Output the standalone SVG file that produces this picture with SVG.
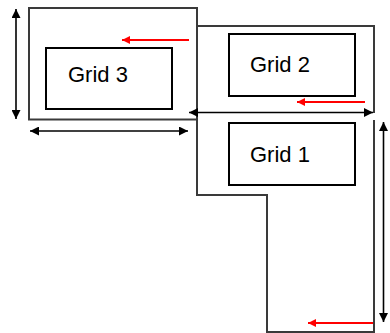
<svg xmlns="http://www.w3.org/2000/svg" width="390" height="333" viewBox="0 0 390 333">
<style>
.outer{fill:none;stroke:#3a3a3a;stroke-width:2;stroke-linejoin:miter}
.inner{fill:#fff;stroke:#000;stroke-width:2}
.lbl{font-family:"Liberation Sans",Arial,sans-serif;font-size:22px;fill:#000}
.dim{stroke:#000;stroke-width:1.6;fill:none;marker-start:url(#bk);marker-end:url(#bk)}
.red{stroke:#ff0000;stroke-width:2;fill:none;marker-end:url(#rd)}
</style>
<defs>
<marker id="bk" markerUnits="userSpaceOnUse" viewBox="0 0 10 10" refX="10" refY="5" markerWidth="10" markerHeight="9" orient="auto-start-reverse">
<path d="M0,0 L10,5 L0,10 Z" fill="#000"/>
</marker>
<marker id="rd" markerUnits="userSpaceOnUse" viewBox="0 0 10 10" refX="10" refY="5" markerWidth="11" markerHeight="8" orient="auto">
<path d="M0,0 L10,5 L0,10 Z" fill="#ff0000"/>
</marker>
</defs>
<g id="grid3">
<rect class="outer" x="29" y="8" width="168" height="111.5"/>
<rect class="inner" x="46" y="48" width="126" height="61"/>
<text class="lbl" x="68" y="82">Grid 3</text>
</g>
<g id="grid2">
<polyline class="outer" points="197,26 374,26 374,113"/>
<rect class="inner" x="229" y="34" width="126" height="62"/>
<text class="lbl" x="250" y="72">Grid 2</text>
</g>
<g id="grid1">
<path class="outer" d="M197,119 V195 H267 V332 H374 V120"/>
<rect class="inner" x="229" y="123" width="126" height="62"/>
<text class="lbl" x="250" y="162">Grid 1</text>
</g>
<g id="connectors">
<line class="dim" x1="16" y1="9" x2="16" y2="119"/>
<line class="dim" x1="30" y1="131" x2="188" y2="131"/>
<line class="dim" x1="189" y1="112.5" x2="373" y2="112.5"/>
<line class="dim" x1="383.5" y1="122" x2="383.5" y2="322"/>
<line class="red" x1="189" y1="40" x2="122" y2="40"/>
<line class="red" x1="365" y1="102" x2="297" y2="102"/>
<line class="red" x1="373" y1="323" x2="308" y2="323"/>
</g>
</svg>
